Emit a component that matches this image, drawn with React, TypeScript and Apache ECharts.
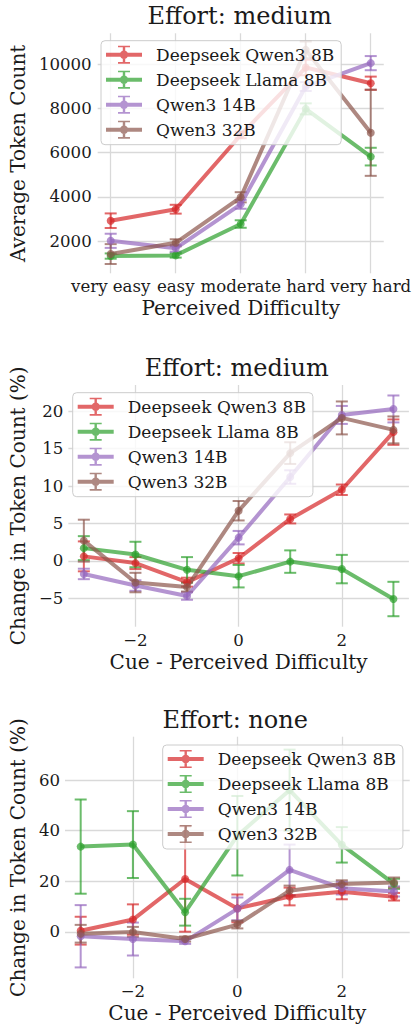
import React, { useEffect, useRef } from "react";
import * as echarts from "echarts";

const modelNames = ["Deepseek Qwen3 8B", "Deepseek Llama 8B", "Qwen3 14B", "Qwen3 32B"];
const modelColors = ["#d62728", "#2ca02c", "#9467bd", "#8c564b"];

// Panel 1: Effort medium, average token count by perceived difficulty
const difficultyLabels = ["very easy", "easy", "moderate", "hard", "very hard"];
const difficultyIndex = [0, 1, 2, 3, 4];
const tokenMean = [
  [2920, 3440, 6800, 9850, 9140],
  [1320, 1350, 2770, 7980, 5820],
  [2010, 1670, 3660, 8990, 10050],
  [1410, 1920, 3980, 10650, 6900],
];
const tokenErr = [
  [330, 200, 150, 350, 300],
  [120, 100, 170, 250, 400],
  [320, 150, 200, 200, 320],
  [450, 160, 230, 380, 1950],
];

// Panel 2 and 3: change in token count vs cue - perceived difficulty
const cueOffsets = [-3, -2, -1, 0, 1, 2, 3];
const mediumChange = [
  [0.6, -0.3, -2.85, 0.35, 5.6, 9.5, 17.2],
  [1.7, 0.85, -1.2, -2.05, -0.1, -1.1, -5.1],
  [-1.75, -3.3, -4.7, 3.1, 11.2, 19.5, 20.3],
  [2.7, -2.9, -3.5, 6.7, 14.4, 19.1, 17.5],
];
const mediumErr = [
  [2.0, 0.8, 0.6, 0.7, 0.6, 0.7, 1.7],
  [1.6, 1.7, 1.7, 1.5, 1.5, 1.9, 2.3],
  [0.7, 0.7, 0.5, 0.9, 0.9, 1.2, 1.8],
  [2.8, 1.3, 0.6, 1.3, 1.45, 2.2, 1.8],
];
const noneChange = [
  [0.5, 4.9, 20.9, 9.3, 14.0, 15.9, 13.9],
  [33.7, 34.5, 7.8, 38.0, 56.0, 34.4, 19.0],
  [-1.7, -2.8, -3.7, 9.1, 24.5, 17.3, 16.0],
  [-0.7, 0.0, -2.8, 2.9, 16.3, 18.9, 19.5],
];
const noneErr = [
  [5.5, 6.0, 20.8, 5.5, 3.5, 3.0, 1.5],
  [18.6, 13.2, 5.3, 15.7, 16.0, 7.0, 2.0],
  [12.3, 6.5, 1.0, 4.5, 10.0, 2.5, 2.0],
  [3.5, 2.0, 1.0, 1.5, 2.0, 1.5, 2.0],
];

const FONT = '"DejaVu Serif", serif';
const TEXT = "#1a1a1a";
const GRIDC = "#d9d9d9";
const ALPHA = 0.7;
const TICK_FS = 16.6;
const LEGEND_FS = 17;
const NAME_FS = 20;
const TITLE_FS = 24;

const legendIcon =
  "path://M0,7H36V11H0Z M16.8,0H19.2V18H16.8Z M12,0H24V1.6H12Z M12,16.4H24V18H12Z M22.2,9A4.2,4.2,0,1,1,13.8,9A4.2,4.2,0,1,1,22.2,9Z";

function fmtNum(v: number) {
  return v < 0 ? "\u2212" + Math.abs(v) : String(v);
}

function makeAxisCommon() {
  return {
    axisLine: { show: false },
    axisTick: { show: false },
    splitLine: {
      show: true,
      showMinLine: false,
      showMaxLine: false,
      lineStyle: { color: GRIDC, width: 1.3 },
    },
    nameTextStyle: { fontFamily: FONT, fontSize: NAME_FS, color: TEXT },
  };
}

function labelStyle(margin: number, formatter: any) {
  return {
    showMinLabel: false,
    showMaxLabel: false,
    margin,
    fontFamily: FONT,
    fontSize: TICK_FS,
    color: TEXT,
    formatter,
  };
}

function buildSeries(gridIdx: number, xs: number[], means: number[][], errs: number[][]) {
  const out: any[] = [];
  means.forEach((row, m) => {
    const color = modelColors[m];
    out.push({
      type: "line",
      name: modelNames[m],
      xAxisIndex: gridIdx,
      yAxisIndex: gridIdx,
      data: row.map((v, i) => [xs[i], v]),
      symbol: "circle",
      symbolSize: 8,
      showSymbol: true,
      clip: false,
      lineStyle: { color, width: 4, opacity: ALPHA },
      itemStyle: { color, opacity: ALPHA },
      emphasis: { disabled: true },
      silent: true,
    });
    out.push({
      type: "custom",
      name: modelNames[m],
      xAxisIndex: gridIdx,
      yAxisIndex: gridIdx,
      data: row.map((v, i) => [xs[i], v, errs[m][i]]),
      encode: { x: 0, y: 1 },
      silent: true,
      renderItem: (params: any, api: any) => {
        const x = api.value(0);
        const y = api.value(1);
        const e = api.value(2);
        const top = api.coord([x, y + e]);
        const bot = api.coord([x, y - e]);
        const cw = 6;
        const style = { stroke: color, lineWidth: 2, opacity: ALPHA };
        return {
          type: "group",
          children: [
            { type: "line", shape: { x1: top[0], y1: top[1], x2: bot[0], y2: bot[1] }, style },
            { type: "line", shape: { x1: top[0] - cw, y1: top[1], x2: top[0] + cw, y2: top[1] }, style },
            { type: "line", shape: { x1: bot[0] - cw, y1: bot[1], x2: bot[0] + cw, y2: bot[1] }, style },
          ],
        };
      },
    });
  });
  return out;
}

function makeLegend(left: number, top: number) {
  return {
    orient: "vertical",
    left,
    top,
    padding: [5, 7, 6, 5],
    itemGap: 7,
    itemWidth: 36,
    itemHeight: 18,
    backgroundColor: "rgba(255,255,255,0.8)",
    borderColor: "#cccccc",
    borderWidth: 1,
    borderRadius: 4,
    selectedMode: false,
    textStyle: {
      fontFamily: FONT,
      fontSize: LEGEND_FS,
      color: TEXT,
      lineHeight: 18,
      padding: [0, 0, 0, 9],
    },
    data: modelNames.map((n, i) => ({
      name: n,
      icon: legendIcon,
      itemStyle: { color: modelColors[i], opacity: ALPHA },
    })),
  };
}

function titleText(x: number, y: number, text: string) {
  return {
    type: "text",
    x,
    y,
    silent: true,
    style: {
      text,
      font: `${TITLE_FS}px ${FONT}`,
      fill: TEXT,
      textAlign: "center",
      textVerticalAlign: "middle",
      align: "center",
      verticalAlign: "middle",
    },
  };
}

export default function App() {
  const ref = useRef<HTMLDivElement>(null);
  useEffect(() => {
    if (!ref.current) return;
    const chart = echarts.init(ref.current, undefined, { renderer: "svg" });
    const common = makeAxisCommon();
    const option: any = {
      animation: false,
      backgroundColor: "#ffffff",
      textStyle: { fontFamily: FONT },
      grid: [
        { left: 93.3, right: 28, top: 33.3, bottom: 754.7, containLabel: false },
        { left: 64.5, right: 5.1, top: 385, bottom: 401.3, containLabel: false },
        { left: 60.5, right: 4.3, top: 736.7, bottom: 49.7, containLabel: false },
      ],
      xAxis: [
        {
          ...common,
          gridIndex: 0,
          type: "value",
          min: -0.2,
          max: 4.2,
          minInterval: 1,
          maxInterval: 1,
          axisLabel: labelStyle(5, (v: number) => difficultyLabels[difficultyIndex.indexOf(v)] ?? ""),
          name: "Perceived Difficulty",
          nameLocation: "middle",
          nameGap: 25,
        },
        {
          ...common,
          gridIndex: 1,
          type: "value",
          min: -3.3,
          max: 3.3,
          minInterval: 2,
          maxInterval: 2,
          axisLabel: labelStyle(5, fmtNum),
          name: "Cue - Perceived Difficulty",
          nameLocation: "middle",
          nameGap: 25,
        },
        {
          ...common,
          gridIndex: 2,
          type: "value",
          min: -3.3,
          max: 3.3,
          minInterval: 2,
          maxInterval: 2,
          axisLabel: labelStyle(5, fmtNum),
          name: "Cue - Perceived Difficulty",
          nameLocation: "middle",
          nameGap: 25,
        },
      ],
      yAxis: [
        {
          ...common,
          gridIndex: 0,
          type: "value",
          min: 540,
          max: 11400,
          minInterval: 2000,
          maxInterval: 2000,
          axisLabel: labelStyle(6, fmtNum),
          name: "Average Token Count",
          nameLocation: "middle",
          nameRotate: 90,
          nameGap: 66,
        },
        {
          ...common,
          gridIndex: 1,
          type: "value",
          min: -8.8,
          max: 23.5,
          minInterval: 5,
          maxInterval: 5,
          axisLabel: labelStyle(5, fmtNum),
          name: "Change in Token Count (%)",
          nameLocation: "middle",
          nameRotate: 90,
          nameGap: 36,
        },
        {
          ...common,
          gridIndex: 2,
          type: "value",
          min: -18.3,
          max: 77.1,
          minInterval: 20,
          maxInterval: 20,
          axisLabel: labelStyle(5, fmtNum),
          name: "Change in Token Count (%)",
          nameLocation: "middle",
          nameRotate: 90,
          nameGap: 33,
        },
      ],
      legend: [makeLegend(101, 40.7), makeLegend(72.7, 392.7), makeLegend(162.7, 745)],
      graphic: [
        titleText(239.6, 16, "Effort: medium"),
        titleText(236.7, 368.3, "Effort: medium"),
        titleText(235.2, 720, "Effort: none"),
      ],
      series: [
        ...buildSeries(0, difficultyIndex, tokenMean, tokenErr),
        ...buildSeries(1, cueOffsets, mediumChange, mediumErr),
        ...buildSeries(2, cueOffsets, noneChange, noneErr),
      ],
    };
    chart.setOption(option);
    return () => chart.dispose();
  }, []);
  return (
    <div
      ref={ref}
      style={{ position: "absolute", left: 0, top: 0, width: 414, height: 1028, background: "#fff" }}
    />
  );
}
